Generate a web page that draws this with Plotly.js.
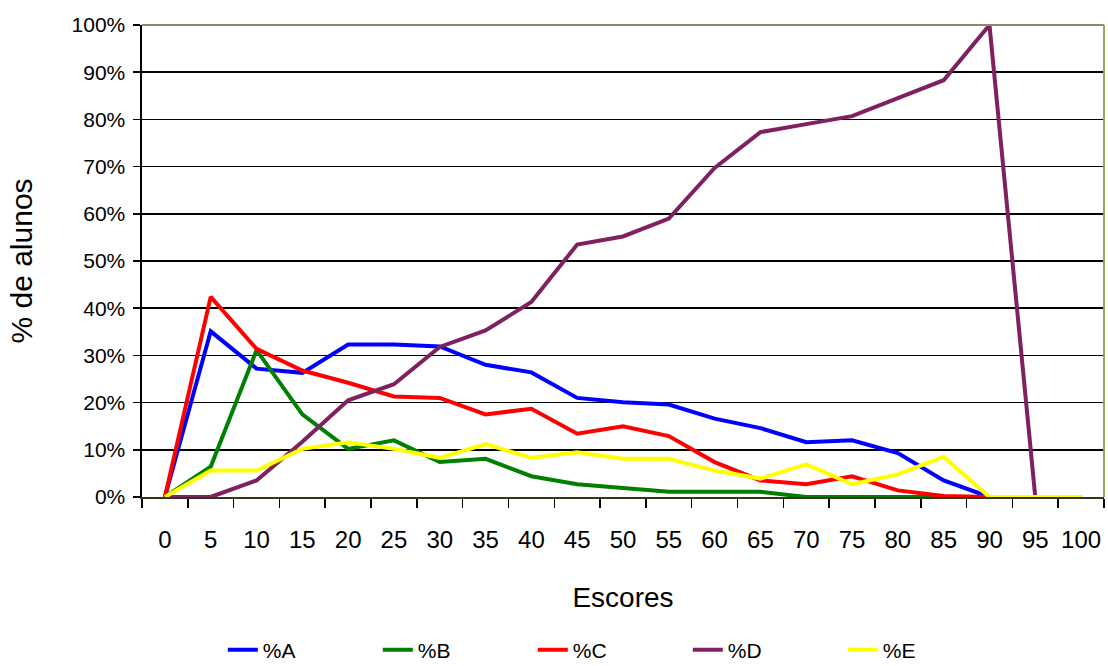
<!DOCTYPE html>
<html>
<head>
<meta charset="utf-8">
<script src="https://cdn.plot.ly/plotly-3.0.1.min.js"></script>
<style>html,body{margin:0;padding:0;background:#fff;}#chart{width:1108px;height:666px;}</style>
</head>
<body>
<div id="chart"></div>
<script>
const categories = ["0","5","10","15","20","25","30","35","40","45","50","55","60","65","70","75","80","85","90","95","100"];
const seriesNames = ["%A","%B","%C","%D","%E"];
const valuesA = [0, 35.1, 27.2, 26.3, 32.3, 32.3, 31.9, 28.0, 26.4, 21.0, 20.1, 19.6, 16.6, 14.6, 11.6, 12.0, 9.3, 3.5, 0, 0, 0];
const valuesB = [0, 6.4, 31.1, 17.5, 10.2, 12.0, 7.4, 8.1, 4.4, 2.7, 1.9, 1.1, 1.1, 1.1, 0, 0, 0, 0, 0, 0, 0];
const valuesC = [0, 42.4, 31.4, 26.8, 24.2, 21.3, 21.0, 17.5, 18.7, 13.4, 15.0, 12.9, 7.4, 3.5, 2.7, 4.4, 1.4, 0.2, 0, 0, 0];
const valuesD = [0, 0, 3.5, 11.7, 20.5, 23.9, 31.8, 35.3, 41.3, 53.5, 55.2, 59.0, 69.7, 77.3, 79.0, 80.7, 84.5, 88.3, 100, 0, 0];
const valuesE = [0, 5.6, 5.6, 10.2, 11.6, 10.2, 8.3, 11.2, 8.3, 9.5, 8.1, 8.1, 5.6, 3.9, 6.9, 2.7, 4.8, 8.5, 0, 0, 0];
const yTickVals = [0,10,20,30,40,50,60,70,80,90,100];
const yTickText = ["0%","10%","20%","30%","40%","50%","60%","70%","80%","90%","100%"];

const colors = ["#0000FF", "#008000", "#FF0000", "#7F2060", "#FFFF00"];
const allValues = [valuesA, valuesB, valuesC, valuesD, valuesE];

const traces = allValues.map((vals, i) => ({
  type: "scatter",
  mode: "lines",
  x: categories,
  y: vals,
  name: seriesNames[i],
  line: {color: colors[i], width: 4},
  hoverinfo: "x+y+name"
}));

const font = "Arial, 'Liberation Sans', sans-serif";

const layout = {
  width: 1108,
  height: 666,
  margin: {l: 142, r: 4, t: 25, b: 169, pad: 0},
  paper_bgcolor: "#ffffff",
  plot_bgcolor: "#ffffff",
  font: {family: font, color: "#000000", size: 21},
  showlegend: true,
  legend: {
    orientation: "h",
    x: 0.084, xanchor: "left",
    yref: "container",
    y: 0.024, yanchor: "middle",
    font: {family: font, size: 21, color: "#000"},
    entrywidth: 110,
    entrywidthmode: "pixels",
    bgcolor: "rgba(0,0,0,0)"
  },
  xaxis: {
    type: "category",
    range: [-0.5, 20.5],
    tickson: "boundaries",
    ticks: "outside",
    ticklen: 9,
    tickwidth: 1.5,
    tickcolor: "#000",
    tickangle: 0,
    showline: true,
    linecolor: "#333322",
    linewidth: 2,
    showgrid: false,
    zeroline: false,
    tickfont: {family: font, size: 24, color: "#000"},
    ticklabelstandoff: 20,
    title: {text: "Escores", font: {family: font, size: 28, color: "#000"}, standoff: 36},
    automargin: false
  },
  yaxis: {
    range: [0, 100],
    tickmode: "array",
    tickvals: yTickVals,
    ticktext: yTickText,
    ticks: "outside",
    ticklen: 7,
    tickwidth: 1.5,
    tickcolor: "#000",
    showline: true,
    linecolor: "#000",
    linewidth: 2.5,
    showgrid: true,
    gridcolor: "#000",
    gridwidth: 1.5,
    zeroline: false,
    tickfont: {family: font, size: 21, color: "#000"},
    ticklabelstandoff: 3,
    title: {text: "% de alunos", font: {family: font, size: 30, color: "#000"}, standoff: 30},
    automargin: false
  },
  shapes: [
    {type: "line", xref: "paper", yref: "paper", x0: 0, x1: 1, y0: 1, y1: 1, line: {color: "#8a8a6a", width: 2}},
    {type: "line", xref: "paper", yref: "paper", x0: 1, x1: 1, y0: 0, y1: 1, line: {color: "#a0a060", width: 2}}
  ]
};

Plotly.newPlot("chart", traces, layout, {displayModeBar: false, staticPlot: true});
</script>
</body>
</html>
